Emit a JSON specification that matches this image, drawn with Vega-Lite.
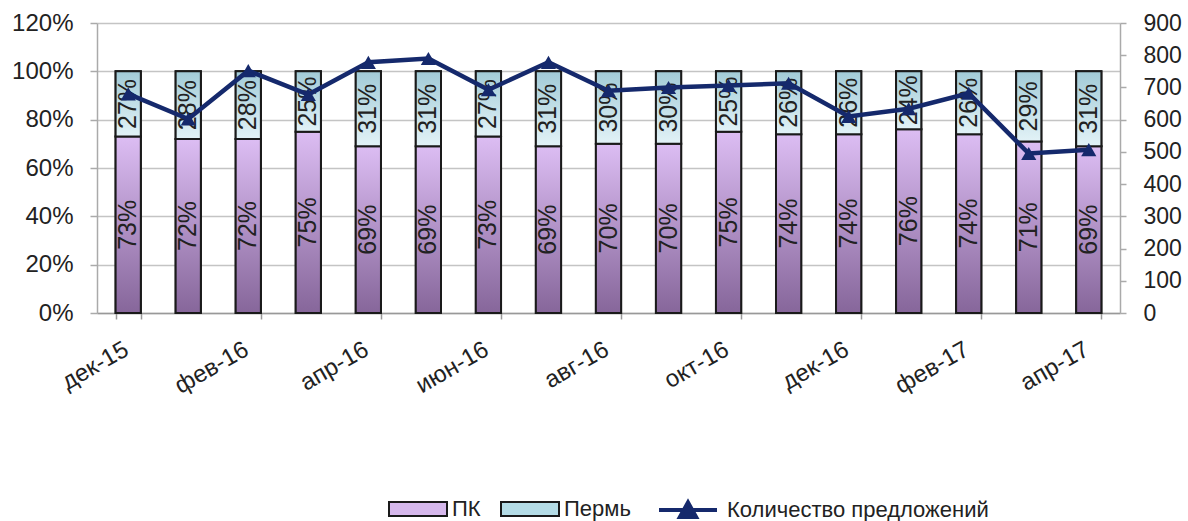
{
  "$schema": "https://vega.github.io/schema/vega-lite/v6.json",
  "width": 1023,
  "height": 290,
  "autosize": {"type": "none"},
  "padding": {"left": 97, "top": 23, "right": 68, "bottom": 208},
  "background": "white",
  "config": {
    "view": {"stroke": null},
    "font": "Liberation Sans",
    "axis": {"labelFont": "Liberation Sans", "labelFontSize": 24, "labelColor": "#222", "title": null, "labelOverlap": false}
  },
  "data": {
    "values": [
      {"month": "дек-15", "pk": 0.73, "perm": 0.27, "count": 680},
      {"month": "янв-16", "pk": 0.72, "perm": 0.28, "count": 602},
      {"month": "фев-16", "pk": 0.72, "perm": 0.28, "count": 752},
      {"month": "мар-16", "pk": 0.75, "perm": 0.25, "count": 678},
      {"month": "апр-16", "pk": 0.69, "perm": 0.31, "count": 778},
      {"month": "май-16", "pk": 0.69, "perm": 0.31, "count": 790},
      {"month": "июн-16", "pk": 0.73, "perm": 0.27, "count": 693},
      {"month": "июл-16", "pk": 0.69, "perm": 0.31, "count": 778},
      {"month": "авг-16", "pk": 0.70, "perm": 0.30, "count": 690},
      {"month": "сен-16", "pk": 0.70, "perm": 0.30, "count": 700},
      {"month": "окт-16", "pk": 0.75, "perm": 0.25, "count": 706},
      {"month": "ноя-16", "pk": 0.74, "perm": 0.26, "count": 713},
      {"month": "дек-16", "pk": 0.74, "perm": 0.26, "count": 610},
      {"month": "янв-17", "pk": 0.76, "perm": 0.24, "count": 634},
      {"month": "фев-17", "pk": 0.74, "perm": 0.26, "count": 682},
      {"month": "мар-17", "pk": 0.71, "perm": 0.29, "count": 495},
      {"month": "апр-17", "pk": 0.69, "perm": 0.31, "count": 507}
    ]
  },
  "encoding": {
    "x": {
      "field": "month", "type": "nominal", "sort": null,
      "scale": {"paddingInner": 0.58, "paddingOuter": 0.31},
      "axis": {
        "values": ["дек-15", "фев-16", "апр-16", "июн-16", "авг-16", "окт-16", "дек-16", "фев-17", "апр-17"],
        "labelAngle": -30, "labelAlign": "right", "labelBaseline": "top",
        "labelPadding": 18, "labelOffset": -8, "tickBand": "extent", "tickSize": 6,
        "tickColor": "#999", "domainColor": "#999", "domainWidth": 1.5, "tickWidth": 1.5
      }
    }
  },
  "layer": [
    {
      "layer": [
        {
          "mark": {"type": "bar", "stroke": "#1a1a1a", "strokeWidth": 2},
          "encoding": {
            "y": {
              "field": "pk", "type": "quantitative",
              "scale": {"domain": [0, 1.2], "nice": false},
              "axis": {
                "values": [0, 0.2, 0.4, 0.6, 0.8, 1.0, 1.2], "format": ".0%",
                "ticks": true, "tickSize": 7, "tickColor": "#aaa", "tickWidth": 1.5,
                "domain": true, "domainColor": "#aaa", "domainWidth": 1.5,
                "labelPadding": 17,
                "grid": true, "gridColor": "#c4c4c4", "gridWidth": 1.5
              }
            },
            "fill": {
              "datum": "ПК",
              "scale": {"domain": ["ПК", "Пермь"], "range": ["#d6b8ec", "#b4dce6"]},
              "legend": {
                "orient": "none", "direction": "horizontal",
                "legendX": 291, "legendY": 456,
                "title": null,
                "symbolType": "M-1,-0.24H1V0.24H-1Z", "symbolSize": 3364,
                "symbolStrokeColor": "#222", "symbolStrokeWidth": 2,
                "labelFontSize": 22, "labelColor": "#222", "labelFont": "Liberation Sans",
                "labelOffset": 4, "columnPadding": 16, "labelLimit": 300
              }
            }
          }
        },
        {
          "mark": {"type": "bar", "stroke": "#1a1a1a", "strokeWidth": 2},
          "encoding": {
            "y": {"field": "pk", "type": "quantitative"},
            "y2": {"datum": 1},
            "fill": {"datum": "Пермь"}
          }
        },
        {
          "mark": {
            "type": "bar", "stroke": "#1a1a1a", "strokeWidth": 2,
            "fill": {"gradient": "linear", "x1": 0, "y1": 0, "x2": 0, "y2": 1,
              "stops": [{"offset": 0, "color": "#dcbdf3"}, {"offset": 1, "color": "#86669a"}]}
          },
          "encoding": {"y": {"field": "pk", "type": "quantitative"}}
        },
        {
          "mark": {
            "type": "bar", "stroke": "#1a1a1a", "strokeWidth": 2,
            "fill": {"gradient": "linear", "x1": 0, "y1": 0, "x2": 0, "y2": 1,
              "stops": [{"offset": 0, "color": "#a2cbd7"}, {"offset": 1, "color": "#e2f2f7"}]}
          },
          "encoding": {
            "y": {"field": "pk", "type": "quantitative"},
            "y2": {"datum": 1}
          }
        }
      ]
    },
    {
      "mark": {"type": "text", "angle": 270, "fontSize": 25, "color": "#222", "font": "Liberation Sans"},
      "encoding": {
        "y": {"field": "pk", "type": "quantitative", "scale": {"domain": [0, 2.4], "nice": false}, "axis": null},
        "text": {"field": "pk", "format": ".0%"}
      }
    },
    {
      "mark": {"type": "text", "angle": 270, "fontSize": 25, "color": "#222", "font": "Liberation Sans"},
      "encoding": {
        "y": {"field": "pk", "type": "quantitative", "scale": {"domain": [-1, 1.4], "nice": false}, "axis": null},
        "text": {"field": "perm", "format": ".0%"}
      }
    },
    {
      "encoding": {
        "y": {
          "field": "count", "type": "quantitative",
          "scale": {"domain": [0, 900], "nice": false},
          "axis": {
            "orient": "right", "values": [0, 100, 200, 300, 400, 500, 600, 700, 800, 900],
            "labelFontSize": 23, "labelOverlap": false,
            "ticks": true, "tickSize": 6, "tickColor": "#aaa", "tickWidth": 1.5,
            "domain": true, "domainColor": "#aaa", "domainWidth": 1.5,
            "grid": false, "labelPadding": 17
          }
        }
      },
      "layer": [
        {
          "mark": {"type": "line", "strokeWidth": 4.5},
          "encoding": {
            "stroke": {
              "datum": "Количество предложений",
              "scale": {"range": ["#15296c"]},
              "legend": {
                "orient": "none", "legendX": 560, "legendY": 456, "title": null,
                "symbolType": "M-1,0L1,0M-0.28,0.24L0,-0.26L0.28,0.24Z", "symbolSize": 3364,
                "symbolStrokeWidth": 4, "symbolFillColor": "#15296c",
                "labelFontSize": 22, "labelColor": "#222", "labelFont": "Liberation Sans",
                "labelOffset": 8, "labelLimit": 400
              }
            }
          }
        },
        {
          "mark": {"type": "point", "shape": "triangle-up", "size": 230, "filled": true, "color": "#15296c", "opacity": 1},
          "encoding": {}
        }
      ]
    }
  ],
  "resolve": {"scale": {"y": "independent"}}
}
